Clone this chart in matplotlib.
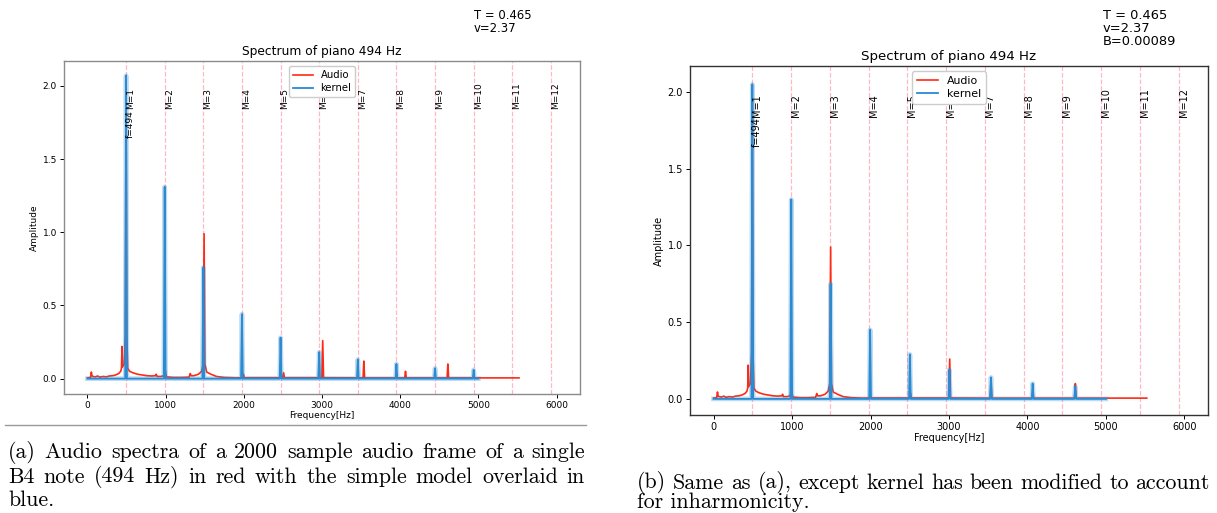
import numpy as np
import matplotlib.pyplot as plt
from matplotlib.lines import Line2D

# recorded spectrum of the B4 frame (vertices of the trace)
audio_hz = [0, 40, 50, 58, 70, 100, 130, 160, 200, 240, 280, 320, 360, 400, 425, 435,
            442, 448, 470, 485, 494, 503, 515, 540, 580, 640, 700, 760, 820, 870, 880,
            890, 940, 975, 985, 993, 1000, 1010, 1100, 1200, 1300, 1315, 1325, 1360,
            1420, 1460, 1480, 1492, 1502, 1525, 1580, 1650, 1750, 1900, 1985, 1995,
            2005, 2495, 2509, 2520, 2998, 3009, 3020, 3525, 3535, 3545, 4058, 4068,
            4078, 4600, 4610, 4620, 5520]
audio_amp = [0.005, 0.008, 0.045, 0.02, 0.015, 0.012, 0.018, 0.01, 0.015, 0.012, 0.018,
             0.02, 0.025, 0.035, 0.05, 0.07, 0.22, 0.08, 0.1, 0.3, 1.95, 0.3, 0.07, 0.05,
             0.04, 0.03, 0.025, 0.02, 0.018, 0.02, 0.03, 0.015, 0.015, 0.02, 0.04, 0.07,
             0.04, 0.012, 0.008, 0.008, 0.01, 0.035, 0.02, 0.02, 0.03, 0.05, 0.1, 0.99,
             0.1, 0.045, 0.03, 0.015, 0.008, 0.005, 0.006, 0.03, 0.006, 0.006, 0.04,
             0.006, 0.006, 0.26, 0.006, 0.005, 0.12, 0.005, 0.005, 0.05, 0.005, 0.005,
             0.10, 0.005, 0.005]

# simple harmonic kernel
kernel_a_hz = [494, 988, 1482, 1976, 2470, 2964, 3458, 3952, 4446, 4940]
kernel_a_amp = [2.07, 1.31, 0.76, 0.44, 0.28, 0.18, 0.13, 0.10, 0.07, 0.06]

# kernel with inharmonic partials
kernel_b_hz = [494, 990, 1492, 1995, 2502, 3005, 3535, 4066, 4608]
kernel_b_amp = [2.05, 1.30, 0.75, 0.45, 0.29, 0.19, 0.14, 0.10, 0.08]

f0 = 494
harmonics = list(range(1, 13))
kernel_end = 5000

RED = '#ff2a14'
BLUE = '#2a8ad2'
W, H = 1217, 513


def kernel_trace(peaks_hz, peaks_amp, half=11):
    xs, ys = [0], [0]
    for f, a in zip(peaks_hz, peaks_amp):
        xs += [f - half, f, f + half]
        ys += [0, a, 0]
    xs.append(kernel_end)
    ys.append(0)
    return xs, ys


def draw_panel(ax, k_hz, k_amp, notes, fs, title_fs, note_fs, leg_fs, note_xy, spine_col):
    fig = ax.figure
    ax.plot(audio_hz, audio_amp, color=RED, lw=1.2, label='Audio', zorder=2)
    kx, ky = kernel_trace(k_hz, k_amp)
    ax.plot(kx, ky, color=BLUE, lw=3.4, alpha=0.3, zorder=3)
    ax.plot(kx, ky, color=BLUE, lw=1.3, label='kernel', zorder=4)

    for m in harmonics:
        ax.axvline(f0 * m, color='#ffb8c6', ls='--', lw=0.9, zorder=1)
        ax.text(f0 * m, 1.84, f'M={m}', rotation=90, fontsize=fs,
                ha='left', va='bottom', zorder=5)
    ax.text(f0, 1.645, f'f={f0}', rotation=90, fontsize=fs,
            ha='left', va='bottom', zorder=5)

    ax.set_xlim(-300, 6300)
    ax.set_ylim(-0.105, 2.17)
    ax.set_xticks([0, 1000, 2000, 3000, 4000, 5000, 6000])
    ax.set_yticks([0.0, 0.5, 1.0, 1.5, 2.0])
    ax.tick_params(labelsize=fs, length=3, width=0.7, pad=2)
    ax.set_xlabel('Frequency[Hz]', fontsize=fs, labelpad=1)
    ax.set_ylabel('Amplitude', fontsize=fs, labelpad=3)
    ax.set_title('Spectrum of piano 494 Hz', fontsize=title_fs, pad=4)
    for s in ax.spines.values():
        s.set_color(spine_col)
        s.set_linewidth(1.0)
    ax.legend(loc='upper center', fontsize=leg_fs, handlelength=2.0,
              borderpad=0.4, labelspacing=0.3, framealpha=1.0)
    fig.text(note_xy[0], note_xy[1], notes, fontsize=note_fs,
             ha='left', va='top', linespacing=1.0)


def caption_line(fig, x0, y, text, x1=None, **kw):
    # left-aligned line, or spread to x1 like a justified paragraph line
    if x1 is None:
        fig.text(x0 / W, 1 - y / H, text, ha='left', va='center', **kw)
        return
    words = text.split()
    r = fig.canvas.get_renderer()
    widths = []
    for w in words:
        t = fig.text(0, 0, w, **kw)
        widths.append(t.get_window_extent(r).width)
        t.remove()
    gap = (x1 - x0 - sum(widths)) / (len(words) - 1)
    x = x0
    for w, wd in zip(words, widths):
        fig.text(x / W, 1 - y / H, w, ha='left', va='center', **kw)
        x += wd + gap


fig = plt.figure(figsize=(12.17, 5.13), dpi=100)

ax1 = fig.add_axes([64 / W, 1 - 394 / H, 516 / W, 333 / H])
draw_panel(ax1, kernel_a_hz, kernel_a_amp, 'T = 0.465\nv=2.37', 6.5, 8.8, 8.4, 7.2,
           (474 / W, 1 - 9 / H), '#8a8a8a')

ax2 = fig.add_axes([690 / W, 1 - 415 / H, 518 / W, 349 / H])
draw_panel(ax2, kernel_b_hz, kernel_b_amp, 'T = 0.465\nv=2.37\nB=0.00089', 7.0, 9.6, 9.4,
           7.9, (1103 / W, 1 - 9 / H), '#333333')

# rule under the left panel
fig.add_artist(Line2D([5 / W, 586 / W], [1 - 425 / H, 1 - 425 / H],
                      color='#9a9a9a', lw=1.0))

cap = dict(family='cmr10', fontsize=15.8)
caption_line(fig, 8, 452, '(a) Audio spectra of a 2000 sample audio frame of a single',
             x1=585, **cap)
caption_line(fig, 8, 477, 'B4 note (494 Hz) in red with the simple model overlaid in',
             x1=585, **cap)
caption_line(fig, 8, 500, 'blue.', **cap)
caption_line(fig, 637, 483, '(b) Same as (a), except kernel has been modified to account',
             x1=1210, **cap)
caption_line(fig, 637, 502, 'for inharmonicity.', **cap)

fig.savefig('out.png', dpi=100)
